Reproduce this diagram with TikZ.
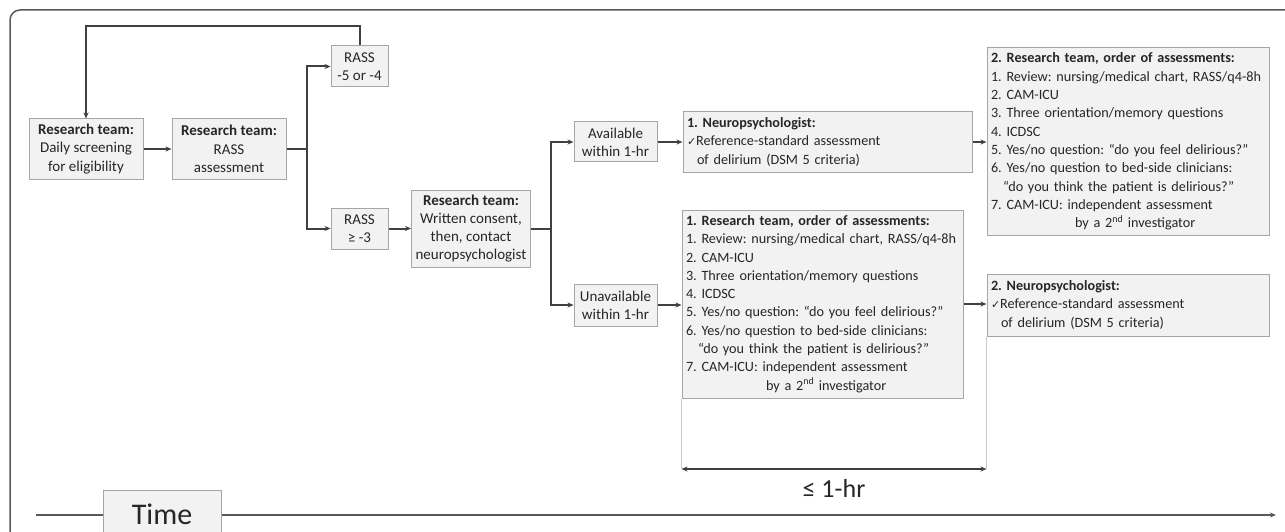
\documentclass[tikz,border=0pt]{standalone}
\usepackage{fontspec}
\setmainfont{Carlito}
\newfontfamily\symfont{DejaVu Sans}
\usetikzlibrary{arrows.meta}
\definecolor{boxFill}{HTML}{F2F2F2}
\definecolor{boxLine}{HTML}{A6A6A6}
\definecolor{flowLine}{HTML}{404040}
\definecolor{frameLine}{HTML}{595959}
\definecolor{guideLine}{HTML}{C8C8C8}
\definecolor{textDark}{HTML}{262626}
\newcommand{\chk}{{\symfont\fontsize{11}{12}\selectfont ✓}}
\frenchspacing
\hyphenpenalty=10000
\tikzset{
  box/.style={draw=boxLine, fill=boxFill, line width=1pt, text=textDark, inner sep=4pt,
    align=center, font=\fontsize{15}{18.3}\selectfont},
  listbox/.style={box, align=left, font=\fontsize{14.2}{18.3}\selectfont},
  flow/.style={draw=flowLine, line width=2pt, -{Stealth[length=6pt,width=5pt]}},
}
\begin{document}
\begin{tikzpicture}[x=1pt,y=-1pt]
  \useasboundingbox (0,0) rectangle (1285,532);
  \clip (0,0) rectangle (1285,532);
  % frame
  \draw[frameLine, line width=1.5pt, rounded corners=10pt] (10,545) -- (10,10) -- (1300,10);

  % screening and RASS
  \node[box, minimum width=114pt, minimum height=60pt] (screen) at (86,149)
    {\textbf{Research team:}\\Daily screening\\for eligibility};
  \node[box, minimum width=114pt, minimum height=60pt] (rassA) at (229,149)
    {\textbf{Research team:}\\RASS\\assessment};
  \node[box, minimum width=57pt, minimum height=41pt] (rassLow) at (359.5,66.5)
    {RASS\\-5 or -4};
  \node[box, minimum width=57pt, minimum height=41pt] (rassHigh) at (359.5,228.5)
    {RASS\\≥ -3};
  \node[box, minimum width=114pt, minimum height=77pt] (consent) at (471,228.5)
    {\textbf{Research team:}\\Written consent,\\then, contact\\neuropsychologist};

  % neuropsychologist availability
  \node[box, minimum width=83pt, minimum height=40pt] (avail) at (615.5,142)
    {Available\\within 1-hr};
  \node[box, minimum width=83pt, minimum height=42pt] (unavail) at (615.5,305)
    {Unavailable\\within 1-hr};
  \node[listbox, minimum width=289pt, minimum height=60pt, text width=281pt] (neuroA) at (827.5,142)
    {\textbf{1. Neuropsychologist:}\\
     \chk Reference-standard assessment\\
     \hspace*{10pt}of delirium (DSM 5 criteria)};
  \node[listbox, minimum width=282pt, minimum height=187pt, text width=274pt] (teamB) at (1128,141.5)
    {\textbf{2. Research team, order of assessments:}\\
     \mbox{1. Review: nursing/medical chart, RASS/q4-8h}\\
     2. CAM-ICU\\
     3. Three orientation/memory questions\\
     4. ICDSC\\
     5. Yes/no question: “do you feel delirious?”\\
     6. Yes/no question to bed-side clinicians:\\
     \hspace*{12pt}“do you think the patient is delirious?”\\
     7. CAM-ICU: independent assessment\\
     \hspace*{84pt}by a 2\textsuperscript{nd} investigator};
  \node[listbox, minimum width=281pt, minimum height=188pt, text width=273pt] (teamA) at (822.5,304)
    {\textbf{1. Research team, order of assessments:}\\
     \mbox{1. Review: nursing/medical chart, RASS/q4-8h}\\
     2. CAM-ICU\\
     3. Three orientation/memory questions\\
     4. ICDSC\\
     5. Yes/no question: “do you feel delirious?”\\
     6. Yes/no question to bed-side clinicians:\\
     \hspace*{12pt}“do you think the patient is delirious?”\\
     7. CAM-ICU: independent assessment\\
     \hspace*{80pt}by a 2\textsuperscript{nd} investigator};
  \node[listbox, minimum width=282pt, minimum height=62pt, text width=274pt] (neuroB) at (1128,305)
    {\textbf{2. Neuropsychologist:}\\
     \chk Reference-standard assessment\\
     \hspace*{10pt}of delirium (DSM 5 criteria)};

  % connectors
  \draw[flow] (screen) -- (rassA);
  \draw[flow] (rassA.east) -- ++(20,0) |- (rassLow.west);
  \draw[flow] (rassA.east) -- ++(20,0) |- (rassHigh.west);
  \draw[flow] (rassLow.north) -- ++(0,-19) -| (screen.north);
  \draw[flow] (rassHigh) -- (consent);
  \draw[flow] (consent.east) -- ++(20,0) |- (avail.west);
  \draw[flow] (consent.east) -- ++(20,0) |- (unavail.west);
  \draw[flow] (avail) -- (neuroA);
  \draw[flow] (unavail) -- (unavail -| teamA.west);
  \draw[flow] (neuroA) -- (neuroA -| teamB.west);
  \draw[flow] (teamA.east) -- (teamA.east -| neuroB.west);

  % one hour span
  \coordinate (spanL) at (teamA.south west |- 0,469);
  \coordinate (spanR) at (neuroB.south west |- 0,469);
  \draw[guideLine, line width=0.8pt] (teamA.south west) -- (spanL);
  \draw[guideLine, line width=0.8pt] (neuroB.south west) -- (spanR);
  \draw[flowLine, line width=2pt, {Stealth[length=6pt,width=5pt]}-{Stealth[length=6pt,width=5pt]}] (spanL) -- (spanR)
    node[midway, below=6pt, text=textDark, font=\fontsize{26}{30}\selectfont] (span) {≤ 1-hr};

  % time axis
  \coordinate (tStart) at (36,515);
  \coordinate (tEnd) at (1276,515);
  \draw[frameLine, line width=1.5pt, -{Stealth[length=6pt,width=5pt]}] (tStart) -- (tEnd);
  \node[box, anchor=base, minimum width=118pt, text height=29pt, text depth=6pt, inner ysep=5pt,
    font=\fontsize{30}{34}\selectfont] (time) at (162,524) {Time};
\end{tikzpicture}
\end{document}
